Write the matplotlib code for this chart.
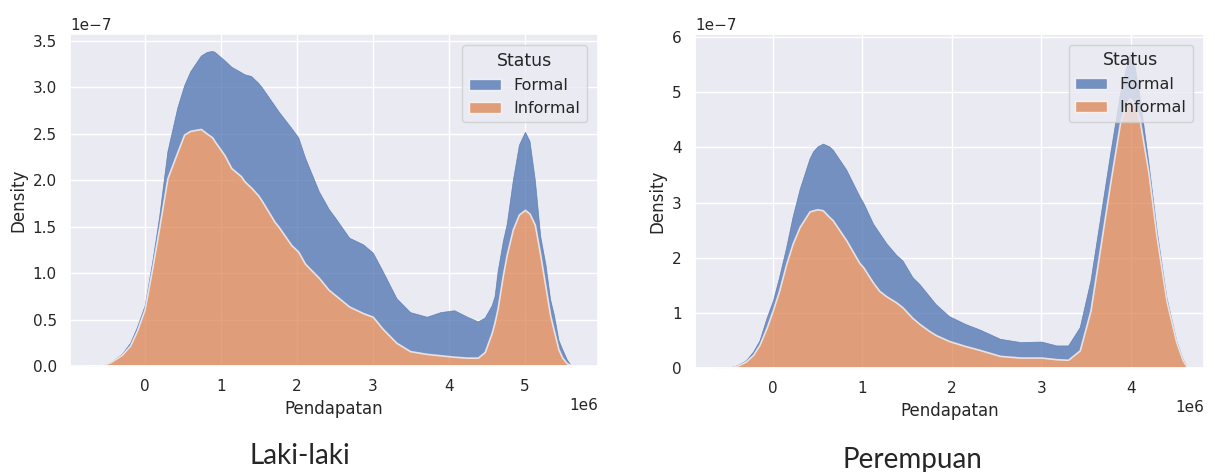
import matplotlib
matplotlib.use("Agg")
import matplotlib.pyplot as plt
from matplotlib.patches import Patch
import numpy as np
import seaborn as sns

sns.set_theme(style="darkgrid")
plt.rcParams['font.family'] = ['DejaVu Sans']

# values: income in 1e6, density in 1e-7
laki_x = [-0.72, -0.55, -0.45, -0.3, -0.19, -0.1, 0.0, 0.1, 0.19, 0.3, 0.43, 0.52, 0.6,
          0.74, 0.82, 0.89, 0.92, 1.05, 1.14, 1.27, 1.31, 1.4, 1.49, 1.54, 1.71, 1.76,
          1.93, 2.02, 2.11, 2.29, 2.42, 2.51, 2.69, 2.87, 3.0, 3.13, 3.31, 3.49, 3.71,
          3.89, 4.07, 4.24, 4.38, 4.47, 4.56, 4.6, 4.64, 4.71, 4.76, 4.84, 4.92, 5.0,
          5.06, 5.13, 5.2, 5.27, 5.33, 5.38, 5.44, 5.49, 5.55, 5.6]
laki_informal = [0.0, 0.01, 0.04, 0.12, 0.22, 0.38, 0.61, 1.05, 1.48, 2.02, 2.3, 2.49, 2.53,
                 2.55, 2.5, 2.46, 2.42, 2.27, 2.13, 2.04, 1.99, 1.92, 1.84, 1.78, 1.55, 1.5,
                 1.3, 1.23, 1.1, 0.95, 0.82, 0.76, 0.64, 0.57, 0.53, 0.4, 0.25, 0.16, 0.13,
                 0.115, 0.1, 0.09, 0.09, 0.15, 0.35, 0.47, 0.62, 0.98, 1.2, 1.47, 1.63, 1.68,
                 1.64, 1.52, 1.2, 0.85, 0.55, 0.38, 0.18, 0.09, 0.03, 0.01]
laki_total = [0.0, 0.01, 0.04, 0.13, 0.25, 0.42, 0.65, 1.12, 1.6, 2.31, 2.78, 3.02, 3.17,
              3.34, 3.38, 3.39, 3.38, 3.29, 3.22, 3.16, 3.14, 3.12, 3.05, 3.0, 2.8, 2.74,
              2.56, 2.46, 2.24, 1.88, 1.69, 1.59, 1.38, 1.31, 1.22, 1.02, 0.73, 0.58, 0.53,
              0.58, 0.6, 0.53, 0.48, 0.52, 0.65, 0.75, 1.02, 1.35, 1.53, 2.0, 2.38, 2.52,
              2.42, 2.0, 1.4, 1.09, 0.72, 0.55, 0.28, 0.18, 0.07, 0.01]

pr_x = [-0.65, -0.5, -0.4, -0.3, -0.22, -0.15, -0.07, 0.0, 0.07, 0.15, 0.22, 0.3, 0.41,
        0.45, 0.5, 0.56, 0.63, 0.67, 0.82, 0.97, 1.01, 1.12, 1.19, 1.27, 1.38, 1.45,
        1.56, 1.64, 1.75, 1.82, 1.97, 2.01, 2.15, 2.31, 2.54, 2.77, 3.0, 3.17, 3.3,
        3.43, 3.55, 3.66, 3.77, 3.88, 3.94, 3.99, 4.04, 4.1, 4.2, 4.29, 4.4, 4.51,
        4.58, 4.62]
pr_informal = [0.0, 0.01, 0.04, 0.12, 0.24, 0.42, 0.73, 1.05, 1.4, 1.89, 2.25, 2.56, 2.84,
               2.86, 2.88, 2.86, 2.74, 2.68, 2.32, 1.9, 1.83, 1.55, 1.4, 1.3, 1.19, 1.1,
               0.91, 0.8, 0.67, 0.6, 0.49, 0.47, 0.4, 0.33, 0.22, 0.19, 0.19, 0.16, 0.15,
               0.32, 1.04, 2.19, 3.35, 4.44, 4.75, 4.89, 4.8, 4.5, 3.53, 2.38, 1.22, 0.47,
               0.15, 0.04]
pr_total = [0.0, 0.01, 0.05, 0.14, 0.3, 0.5, 0.91, 1.22, 1.65, 2.2, 2.74, 3.25, 3.8,
            3.93, 4.02, 4.07, 4.02, 3.96, 3.6, 3.11, 3.0, 2.62, 2.45, 2.26, 2.05, 1.95,
            1.65, 1.52, 1.3, 1.16, 0.94, 0.91, 0.8, 0.7, 0.53, 0.47, 0.48, 0.41, 0.41,
            0.74, 1.59, 2.74, 3.89, 4.98, 5.4, 5.7, 5.5, 4.92, 3.7, 2.5, 1.28, 0.5,
            0.17, 0.05]

captions = ["Laki-laki", "Perempuan"]
blue, orange = sns.color_palette("deep")[0], sns.color_palette("deep")[1]

fig = plt.figure(figsize=(12.15, 4.72), dpi=100)
ax1 = fig.add_axes([0.0576, 0.2246, 0.4346, 0.703])
ax2 = fig.add_axes([0.572, 0.2203, 0.419, 0.708])

panels = [(ax1, laki_x, laki_informal, laki_total, (-0.98e6, 5.96e6), 3.57e-7),
          (ax2, pr_x, pr_informal, pr_total, (-0.87e6, 4.82e6), 6.06e-7)]

for ax, xs, inf, tot, xlim, ytop in panels:
    x = np.array(xs) * 1e6
    inf = np.array(inf) * 1e-7
    tot = np.array(tot) * 1e-7
    ax.fill_between(x, inf, tot, facecolor=blue, alpha=0.75, edgecolor=blue, linewidth=0.5)
    ax.fill_between(x, 0, inf, facecolor=orange, alpha=0.75, edgecolor="white", linewidth=1.2)
    ax.set_xlim(*xlim)
    ax.set_ylim(0, ytop)
    ax.set_xlabel("Pendapatan", fontsize=12)
    ax.set_ylabel("Density", fontsize=12)
    ax.tick_params(labelsize=11)
    ax.xaxis.get_offset_text().set_fontsize(11)
    ax.yaxis.get_offset_text().set_fontsize(11)
    handles = [Patch(facecolor=blue, alpha=0.75, label="Formal"),
               Patch(facecolor=orange, alpha=0.75, label="Informal")]
    ax.legend(handles=handles, title="Status", loc="upper right",
              fontsize=11.5, title_fontsize=12.5, borderaxespad=0.7)

fig.text(0.247, 0.018, captions[0], ha="center", fontsize=20, family="Lato")
fig.text(0.751, 0.008, captions[1], ha="center", fontsize=20, family="Lato")

fig.savefig("out.png", dpi=100)
